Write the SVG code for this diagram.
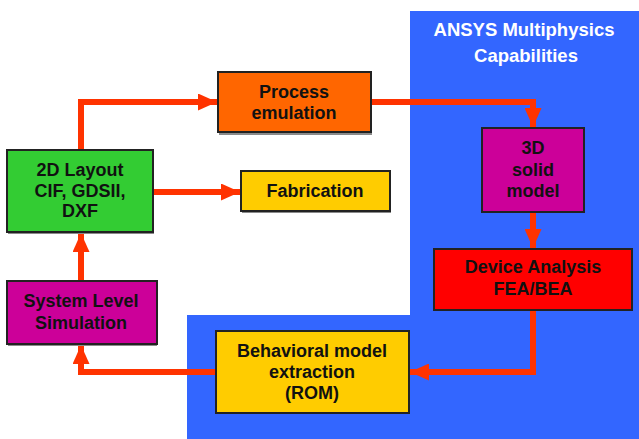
<svg xmlns="http://www.w3.org/2000/svg" width="639" height="439" viewBox="0 0 639 439">
<defs>
<style>
.t{font-family:"Liberation Sans",Arial,sans-serif;font-weight:bold;font-size:18px;fill:#111;text-anchor:middle}
.w{fill:#fff;font-size:18.5px}
.box{stroke:#222;stroke-width:2}
.sh{fill:#8a8a8a}
.c{fill:none;stroke:#FF3300;stroke-width:6;stroke-linejoin:miter}
</style>
<marker id="ah" markerUnits="userSpaceOnUse" markerWidth="19" markerHeight="17" refX="19" refY="8.5" orient="auto">
<path d="M0,0 L19,8.5 L0,17 Z" fill="#FF3300"/>
</marker>
</defs>
<rect width="639" height="439" fill="#fff"/>
<g id="ansys-region">
<path d="M410,11 H639 V439 H187 V315 H410 Z" fill="#3366FF"/>
<text class="t w" x="524" y="36">ANSYS Multiphysics</text>
<text class="t w" x="526" y="62">Capabilities</text>
</g>
<g id="connectors">
<path class="c" d="M81,150 V102 H217" marker-end="url(#ah)"/>
<path class="c" d="M371,102 H533 V127" marker-end="url(#ah)"/>
<path class="c" d="M533,212 V248" marker-end="url(#ah)"/>
<path class="c" d="M533,310 V372 H410" marker-end="url(#ah)"/>
<path class="c" d="M216,372 H81 V345" marker-end="url(#ah)"/>
<path class="c" d="M81,281 V233" marker-end="url(#ah)"/>
<path class="c" d="M154,192 H240" marker-end="url(#ah)"/>
</g>
<g id="process-emulation">
<rect class="sh" x="219" y="74" width="153" height="61"/>
<rect class="box" x="218" y="72" width="153" height="60" fill="#FF6600"/>
<text class="t" x="294" y="98">Process</text>
<text class="t" x="294" y="119">emulation</text>
</g>
<g id="solid-model">
<rect class="box" x="482" y="128" width="102" height="84" fill="#CC0099"/>
<text class="t" x="533" y="154">3D</text>
<text class="t" x="533" y="176">solid</text>
<text class="t" x="533" y="197">model</text>
</g>
<g id="layout-2d">
<rect class="sh" x="8" y="152" width="146" height="82"/>
<rect class="box" x="7" y="150" width="146" height="82" fill="#33CC33"/>
<text class="t" x="80" y="176">2D Layout</text>
<text class="t" x="80" y="197">CIF, GDSII,</text>
<text class="t" x="80" y="217">DXF</text>
</g>
<g id="fabrication">
<rect class="sh" x="242" y="173" width="149" height="40"/>
<rect class="box" x="241" y="171" width="149" height="40" fill="#FFCC00"/>
<text class="t" x="315" y="197">Fabrication</text>
</g>
<g id="device-analysis">
<rect class="box" x="434" y="249" width="198" height="61" fill="#FF0000"/>
<text class="t" x="533" y="273">Device Analysis</text>
<text class="t" x="533" y="295">FEA/BEA</text>
</g>
<g id="system-level-simulation">
<rect class="sh" x="8" y="283" width="149" height="63"/>
<rect class="box" x="7" y="281" width="150" height="63" fill="#CC0099"/>
<text class="t" x="81" y="307">System Level</text>
<text class="t" x="81" y="329">Simulation</text>
</g>
<g id="behavioral-model">
<rect class="box" x="216" y="331" width="193" height="82" fill="#FFCC00"/>
<text class="t" x="312" y="357">Behavioral model</text>
<text class="t" x="312" y="378">extraction</text>
<text class="t" x="312" y="399">(ROM)</text>
</g>
</svg>
